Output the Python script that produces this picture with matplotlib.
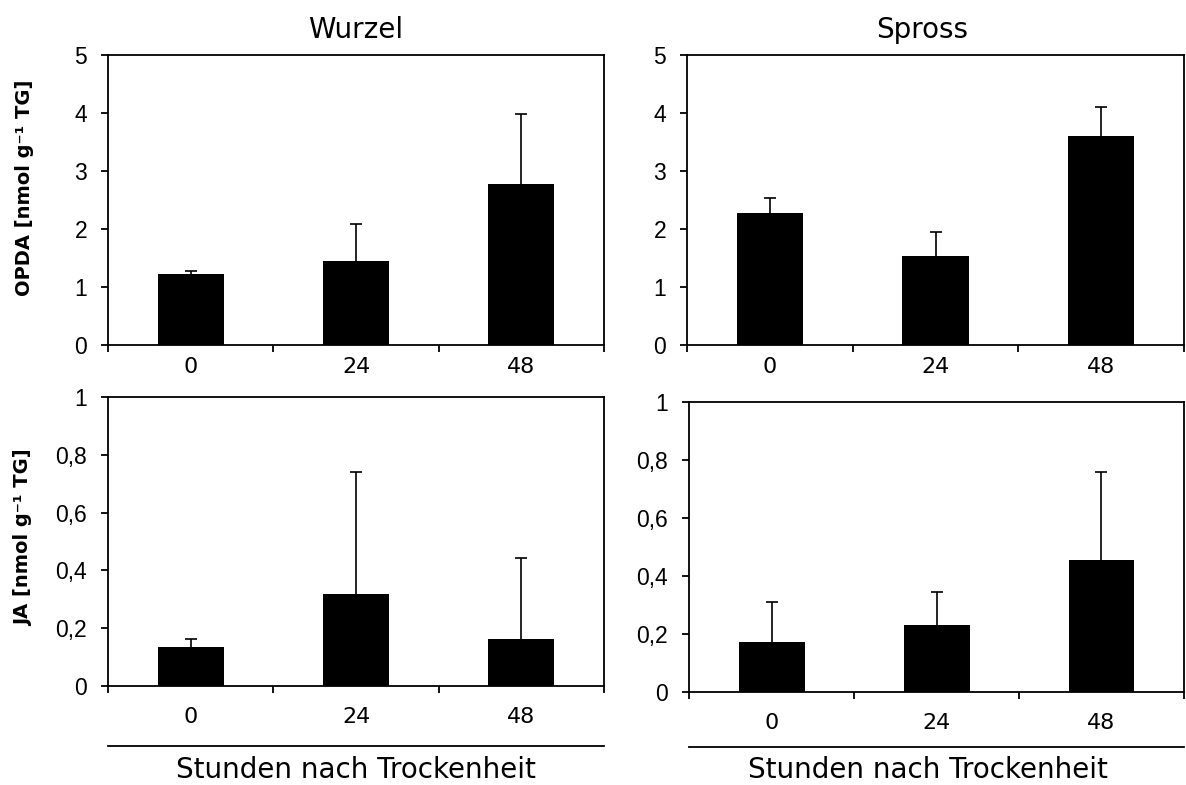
import numpy as np
import matplotlib
matplotlib.use("Agg")
import matplotlib.pyplot as plt

hours = ["0", "24", "48"]

opda_wurzel = [1.22, 1.45, 2.78]
opda_wurzel_err = [0.06, 0.64, 1.21]
opda_spross = [2.27, 1.54, 3.60]
opda_spross_err = [0.26, 0.40, 0.51]

ja_wurzel = [0.134, 0.317, 0.164]
ja_wurzel_err = [0.027, 0.424, 0.280]
ja_spross = [0.172, 0.232, 0.454]
ja_spross_err = [0.139, 0.114, 0.306]

opda_ticks = [0, 1, 2, 3, 4, 5]
opda_ticklabels = ["0", "1", "2", "3", "4", "5"]
ja_ticks = [0, 0.2, 0.4, 0.6, 0.8, 1.0]
ja_ticklabels = ["0", "0,2", "0,4", "0,6", "0,8", "1"]

titles = ["Wurzel", "Spross"]
xlabel = "Stunden nach Trockenheit"
ylabels = ["OPDA [nmol g⁻¹ TG]", "JA [nmol g⁻¹ TG]"]


def _panel(ax, values, errors, ticks, ticklabels, xpad):
    x = np.arange(len(hours))
    ax.bar(x, values, width=0.4, color="black", zorder=2)
    _, caps, _ = ax.errorbar(x, values, yerr=[np.zeros(len(values)), errors], fmt="none",
                             ecolor="black", elinewidth=1.2, capsize=4.5, capthick=1.2,
                             zorder=1)
    caps[0].set_visible(False)  # no cap at the bar top
    ax.set_xlim(-0.5, len(hours) - 0.5)
    ax.set_ylim(ticks[0], ticks[-1])
    ax.set_yticks(ticks)
    ax.set_yticklabels(ticklabels)
    # major x ticks mark the category borders, minor ones carry the labels
    ax.set_xticks(np.arange(len(hours) + 1) - 0.5)
    ax.set_xticklabels([])
    ax.set_xticks(x, minor=True)
    ax.set_xticklabels(hours, minor=True)
    ax.tick_params(axis="both", which="major", direction="out", length=5, width=1.3)
    ax.tick_params(axis="y", pad=10, labelsize=16.5, labelfontfamily="Liberation Sans")
    ax.tick_params(axis="x", which="minor", length=0, pad=xpad, labelsize=16,
                   labelfontfamily="DejaVu Sans")
    for s in ax.spines.values():
        s.set_linewidth(1.3)


fig = plt.figure(figsize=(11.86, 7.85), dpi=100)
ax_tl = fig.add_axes([0.0911, 0.5605, 0.4182, 0.3694])
ax_tr = fig.add_axes([0.5793, 0.5605, 0.4190, 0.3694])
ax_bl = fig.add_axes([0.0911, 0.1261, 0.4182, 0.3682])
ax_br = fig.add_axes([0.5810, 0.1185, 0.4173, 0.3694])

_panel(ax_tl, opda_wurzel, opda_wurzel_err, opda_ticks, opda_ticklabels, 8.5)
_panel(ax_tr, opda_spross, opda_spross_err, opda_ticks, opda_ticklabels, 8.5)
_panel(ax_bl, ja_wurzel, ja_wurzel_err, ja_ticks, ja_ticklabels, 15)
_panel(ax_br, ja_spross, ja_spross_err, ja_ticks, ja_ticklabels, 15)

ax_tl.text(0.5, 1.0586, titles[0], transform=ax_tl.transAxes, ha="center",
           va="baseline", fontsize=20)
ax_tr.text(0.473, 1.0586, titles[1], transform=ax_tr.transAxes, ha="center",
           va="baseline", fontsize=20)

for ax, ly, ty, tx in [(ax_bl, -0.2076, -0.318, 0.5), (ax_br, -0.19, -0.296, 0.482)]:
    ax.plot([0, 1], [ly, ly], color="black", linewidth=1.3,
            transform=ax.transAxes, clip_on=False)
    ax.text(tx, ty, xlabel, transform=ax.transAxes, ha="center",
            va="baseline", fontsize=20)

fig.text(0.021, 1 - 188 / 785, ylabels[0], rotation=90, ha="center", va="center",
         fontsize=14, fontweight="bold")
fig.text(0.020, 1 - 538 / 785, ylabels[1], rotation=90, ha="center", va="center",
         fontsize=14, fontweight="bold")

fig.savefig("out.png", dpi=100)
